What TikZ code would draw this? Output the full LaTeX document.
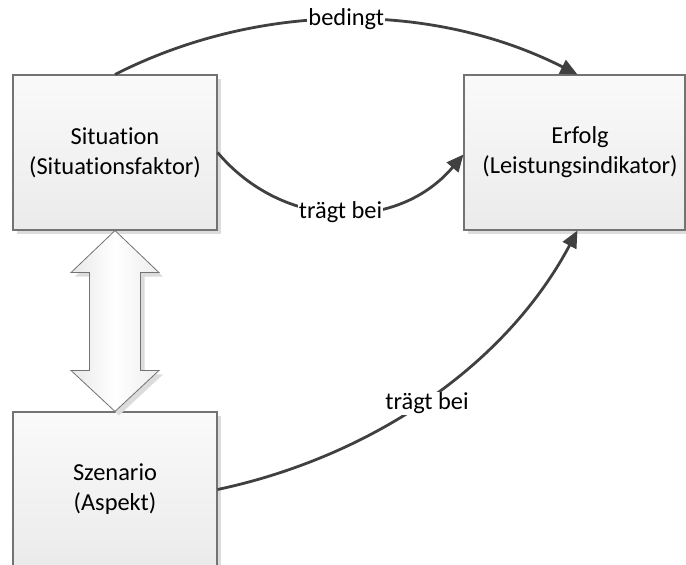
\documentclass[tikz,border=0pt]{standalone}
\usepackage{fontspec}
\setmainfont{Carlito}[Ligatures={NoCommon,NoRare,NoContextual}]
\usetikzlibrary{arrows.meta,shadows,calc}
\definecolor{linegray}{HTML}{404040}
\definecolor{framegray}{HTML}{737373}
\definecolor{shadowgray}{HTML}{DCDCDC}
\begin{document}
\begin{tikzpicture}[x=1pt,y=-1pt,
  every node/.style={font=\fontsize{24.4}{30}\selectfont, text=black},
  boxshadow/.style={drop shadow={shadow xshift=4pt, shadow yshift=-4pt, fill=shadowgray, opacity=1}},
  box/.style={rectangle, draw=framegray, line width=1.1pt,
    top color=white!98!black, bottom color=black!8,
    minimum height=155pt, inner sep=0pt, align=center, boxshadow},
  link/.style={draw=linegray, line width=2.8pt, -{Triangle[length=17pt,width=15pt]}},
  tag/.style={fill=white, inner sep=1pt},
  dblarrow/.style={draw=framegray, line width=0.8pt,
    left color=black!9, right color=black!7, middle color=white, boxshadow}]
\useasboundingbox (0,0) rectangle (686,565);
\clip (0,0) rectangle (686,565);

% boxes
\node[box, minimum width=204pt] (sit) at (115,152.5) {Situation\\(Situationsfaktor)};
\node[box, minimum width=221pt] (erfolg) at (574.5,152.5) {};
\node[align=center] (erfolgtext) at (580,152.5) {Erfolg\\(Leistungsindikator)};
\node[box, minimum width=204pt] (szen) at (115,489.5) {Szenario\\(Aspekt)};

% two-headed block arrow between Situation and Szenario
\coordinate (dtop) at (sit.south);
\coordinate (dbot) at (szen.north);
\path[dblarrow] (dtop) -- ($(dtop)+(44,42)$) -- ($(dtop)+(25.5,42)$)
  -- ($(dbot)+(25.5,-41)$) -- ($(dbot)+(44,-41)$) -- (dbot)
  -- ($(dbot)+(-44,-41)$) -- ($(dbot)+(-25.5,-41)$)
  -- ($(dtop)+(-25.5,42)$) -- ($(dtop)+(-44,42)$) -- cycle;

% curved connectors
\draw[link] (sit.north) .. controls +(144.5,-73.3) and +(-144.5,-73.3)
  .. ([xshift=114pt]erfolg.north west) node[tag, pos=0.5] {bedingt};
\draw[link] (sit.east) .. controls +(66,78) and +(-66,78)
  .. ([yshift=-2pt]erfolg.west) node[tag, pos=0.5] {trägt bei};
\draw[link] (szen.east) .. controls +(151.6,-32.2) and +(-72.8,136.9)
  .. ([xshift=114pt]erfolg.south west) node[tag, pos=0.5, yshift=-4pt] {trägt bei};
\end{tikzpicture}
\end{document}
